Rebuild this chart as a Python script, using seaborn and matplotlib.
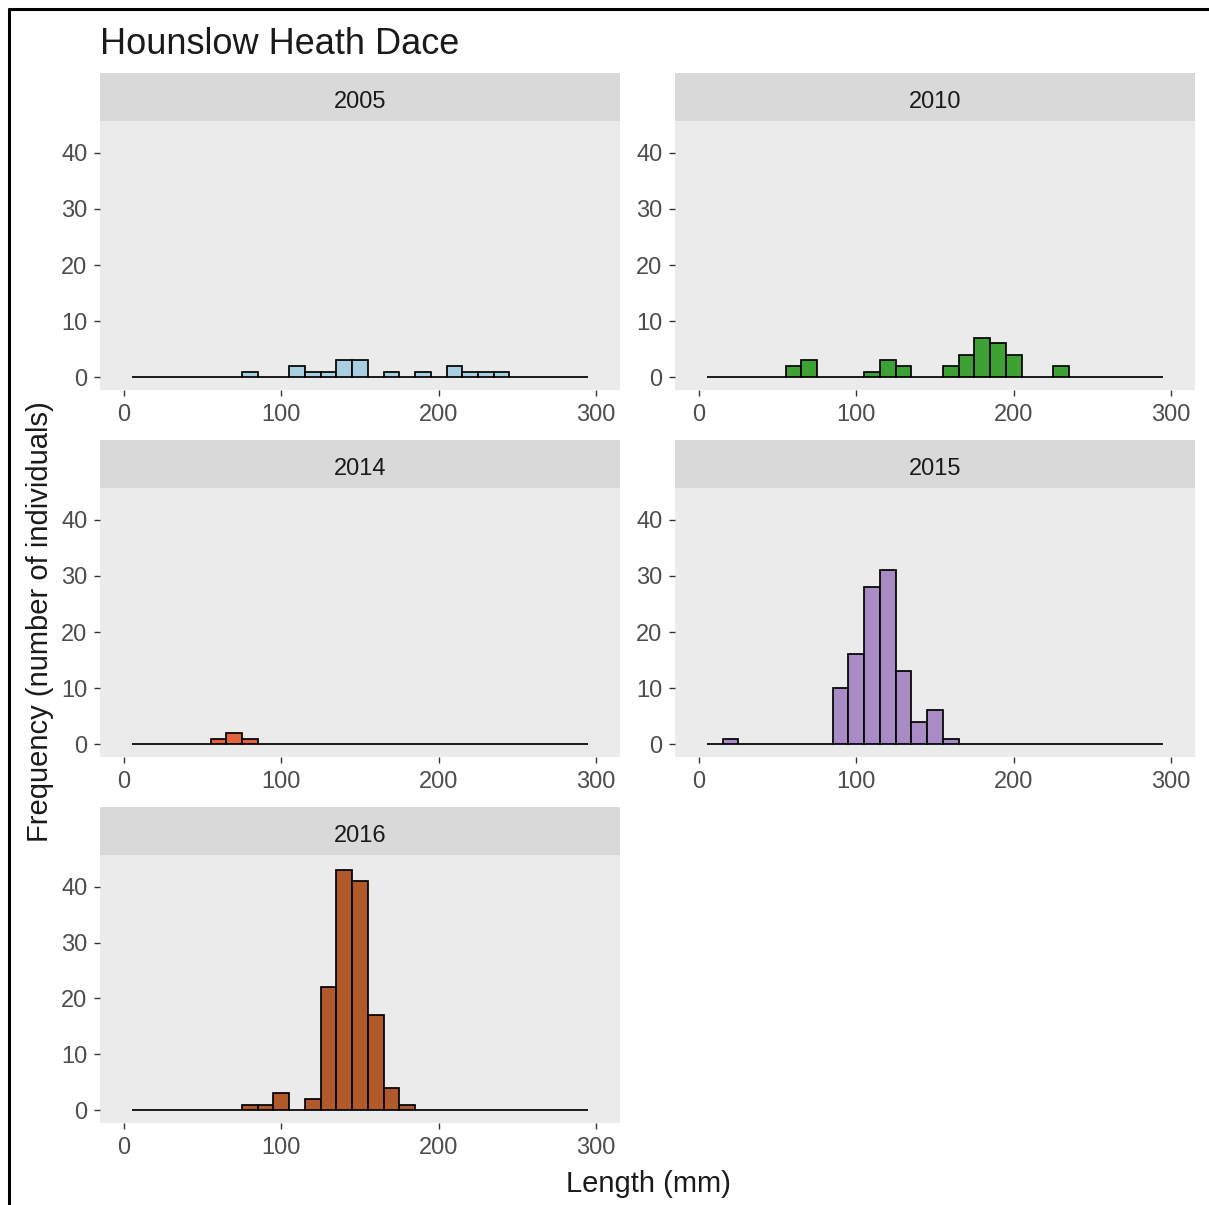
import numpy as np
import pandas as pd
import matplotlib
matplotlib.use("Agg")
import matplotlib.pyplot as plt
from matplotlib.lines import Line2D
import seaborn as sns

# ---------------- data ----------------
title = "Hounslow Heath Dace"
x_label = "Length (mm)"
y_label = "Frequency (number of individuals)"
years = ["2005", "2010", "2014", "2015", "2016"]
bin_centers = [10, 20, 30, 40, 50, 60, 70, 80, 90, 100, 110, 120, 130, 140, 150,
               160, 170, 180, 190, 200, 210, 220, 230, 240, 250, 260, 270, 280, 290]
counts_2005 = [0, 0, 0, 0, 0, 0, 0, 1, 0, 0, 2, 1, 1, 3, 3, 0, 1, 0, 1, 0, 2, 1, 1, 1, 0, 0, 0, 0, 0]
counts_2010 = [0, 0, 0, 0, 0, 2, 3, 0, 0, 0, 1, 3, 2, 0, 0, 2, 4, 7, 6, 4, 0, 0, 2, 0, 0, 0, 0, 0, 0]
counts_2014 = [0, 0, 0, 0, 0, 1, 2, 1, 0, 0, 0, 0, 0, 0, 0, 0, 0, 0, 0, 0, 0, 0, 0, 0, 0, 0, 0, 0, 0]
counts_2015 = [0, 1, 0, 0, 0, 0, 0, 0, 10, 16, 28, 31, 13, 4, 6, 1, 0, 0, 0, 0, 0, 0, 0, 0, 0, 0, 0, 0, 0]
counts_2016 = [0, 0, 0, 0, 0, 0, 0, 1, 1, 3, 0, 2, 22, 43, 41, 17, 4, 1, 0, 0, 0, 0, 0, 0, 0, 0, 0, 0, 0]
x_ticks = [0, 100, 200, 300]
y_ticks = [0, 10, 20, 30, 40]
bin_width = 10

counts = {"2005": counts_2005, "2010": counts_2010, "2014": counts_2014,
          "2015": counts_2015, "2016": counts_2016}
colors = {"2005": "#A9CFE3", "2010": "#3DA233", "2014": "#E5623F",
          "2015": "#A98BC6", "2016": "#B15928"}

rows = []
for y in years:
    for c, n in zip(bin_centers, counts[y]):
        rows.append({"year": y, "length": c, "n": n})
df = pd.DataFrame(rows)
bin_range = (bin_centers[0] - bin_width / 2, bin_centers[-1] + bin_width / 2)

# ---------------- style ----------------
sns.set_theme(style="white")
plt.rcParams["font.family"] = ["Liberation Sans", "DejaVu Sans"]

W, H = 1209, 1205
fig = plt.figure(figsize=(W / 100, H / 100), dpi=100)
fig.patch.set_facecolor("white")

def fig_rect(x0, y0, x1, y1):
    return [x0 / W, 1 - y1 / H, (x1 - x0) / W, (y1 - y0) / H]

cols_px = [(100, 620), (675, 1195)]
rows_px = [((73, 121), (121, 390)), ((440, 488), (488, 757)), ((807, 855), (855, 1123))]

for i, y in enumerate(years):
    r, c = divmod(i, 2)
    (sx0, sx1) = cols_px[c]
    (st, pn) = rows_px[r]
    # strip
    sax = fig.add_axes(fig_rect(sx0, st[0], sx1, st[1]))
    sax.set_facecolor("#D9D9D9")
    sax.set_xticks([]); sax.set_yticks([])
    for s in sax.spines.values():
        s.set_visible(False)
    sax.text(0.5, 0.40, y, ha="center", va="center", fontsize=17, color="#1A1A1A",
             transform=sax.transAxes)
    # panel
    ax = fig.add_axes(fig_rect(sx0, pn[0], sx1, pn[1]))
    ax.set_facecolor("#EBEBEB")
    sub = df[df["year"] == y]
    sns.histplot(data=sub, x="length", weights="n", binwidth=bin_width, binrange=bin_range,
                 color=colors[y], edgecolor="black", linewidth=1.25, alpha=1, ax=ax)
    ax.set_xlim(-15.3, 315.3)
    ax.set_ylim(-2.3, 45.7)
    ax.set_xticks(x_ticks)
    ax.set_yticks(y_ticks)
    ax.set_xlabel("")
    ax.set_ylabel("")
    ax.grid(False)
    for s in ax.spines.values():
        s.set_visible(False)
    ax.tick_params(axis="x", length=4, width=1, color="#333333",
                   labelcolor="#4D4D4D", labelsize=17, pad=6, direction="out", bottom=True)
    ax.tick_params(axis="y", length=4, width=1, color="#333333",
                   labelcolor="#4D4D4D", labelsize=17, pad=5, direction="out", left=True)

fig.text(100 / W, 1 - 45 / H, title, ha="left", va="center", fontsize=26, color="#1A1A1A")
fig.text(648 / W, 1 - 1184 / H, x_label, ha="center", va="center", fontsize=21, color="#1A1A1A")
fig.text(40 / W, 1 - 622 / H, y_label, ha="center", va="center", rotation=90,
         fontsize=21, color="#1A1A1A")

# outer frame lines (top and left)
fig.add_artist(Line2D([9 / W, 1.0], [1 - 9 / H, 1 - 9 / H], color="black", linewidth=2.2,
                      transform=fig.transFigure))
fig.add_artist(Line2D([9 / W, 9 / W], [0.0, 1 - 9 / H], color="black", linewidth=2.2,
                      transform=fig.transFigure))

fig.savefig("out.png", dpi=100, facecolor="white")
